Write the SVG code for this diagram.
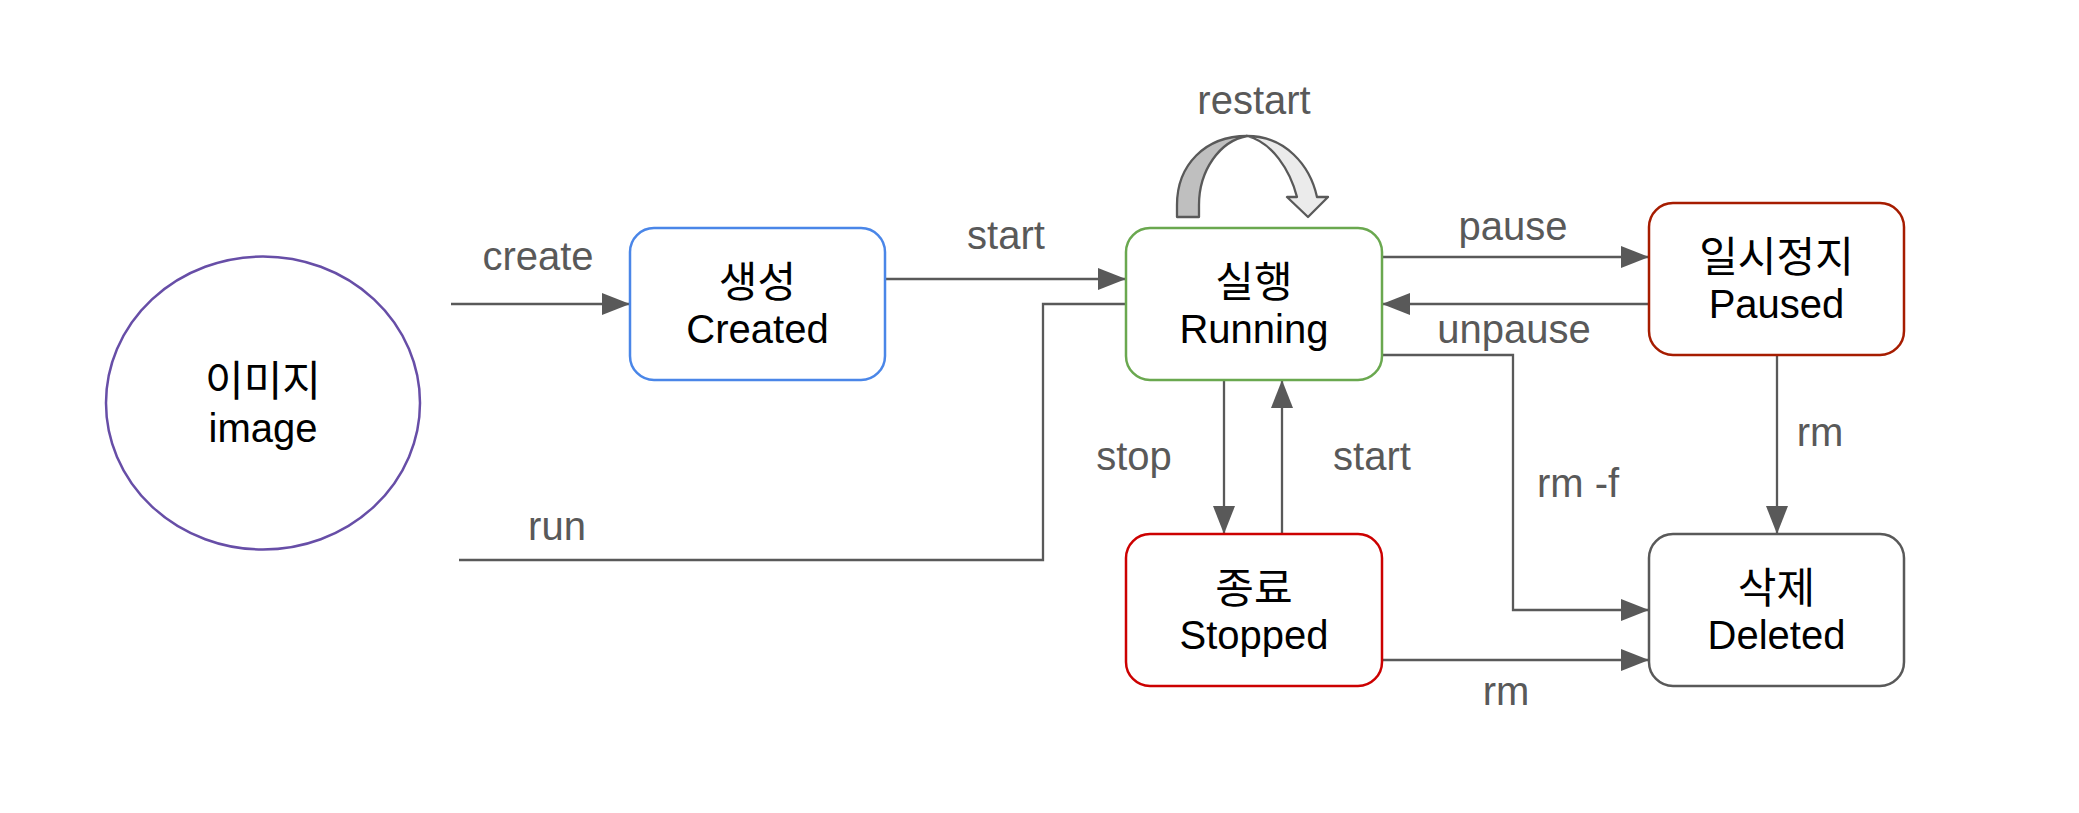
<svg xmlns="http://www.w3.org/2000/svg" width="2079" height="813" viewBox="0 0 2079 813">
<style>
.lbl{font-family:"Liberation Sans","Noto Sans CJK KR",sans-serif;font-size:40px;fill:#595959;text-anchor:middle}
.txt{font-family:"Liberation Sans","Noto Sans CJK KR",sans-serif;font-size:40px;fill:#000000;text-anchor:middle}
.ko{font-family:"Noto Sans CJK KR","Liberation Sans",sans-serif;font-size:42px;fill:#000000;text-anchor:middle}
.box{fill:#ffffff;stroke-width:2.5}
.edge{fill:none;stroke:#595959;stroke-width:2.3}
.arr{marker-end:url(#ah)}
</style>
<defs>
<marker id="ah" markerWidth="28" markerHeight="22" refX="28" refY="11" orient="auto" markerUnits="userSpaceOnUse">
<path d="M0,0 L28,11 L0,22 Z" fill="#595959"/>
</marker>
</defs>
<rect x="0" y="0" width="2079" height="813" fill="#ffffff"/>
<g id="connectors">
<path class="edge arr" d="M451,304 L630,304"/>
<path class="edge arr" d="M885,279 L1126,279"/>
<path class="edge" d="M459,560 L1043,560 L1043,304 L1126,304"/>
<path class="edge arr" d="M1382,257 L1649,257"/>
<path class="edge arr" d="M1649,304 L1382,304"/>
<path class="edge arr" d="M1378,355 L1513,355 L1513,610 L1649,610"/>
<path class="edge arr" d="M1224,380 L1224,534"/>
<path class="edge arr" d="M1282,534 L1282,380"/>
<path class="edge arr" d="M1382,660 L1649,660"/>
<path class="edge arr" d="M1777,355 L1777,534"/>
<g id="restart-arrow" stroke="#595959" stroke-width="2.3" stroke-linejoin="round">
<path d="M1177,217 L1177,205 C1177,165 1205,136 1247,136 C1220,141 1199,170 1199,205 L1199,217 Z" fill="#bfbfbf"/>
<path d="M1247,136 C1285,136 1310,165 1317,197 L1328,197 L1308,217 L1287,197 L1297,197 C1290,170 1272,142 1247,136 Z" fill="#ebebeb"/>
</g>
<text class="lbl" x="538" y="270">create</text>
<text class="lbl" x="1006" y="249">start</text>
<text class="lbl" x="557" y="540">run</text>
<text class="lbl" x="1254" y="114">restart</text>
<text class="lbl" x="1513" y="240">pause</text>
<text class="lbl" x="1514" y="343">unpause</text>
<text class="lbl" x="1134" y="470">stop</text>
<text class="lbl" x="1372" y="470">start</text>
<text class="lbl" x="1578" y="497">rm -f</text>
<text class="lbl" x="1820" y="446">rm</text>
<text class="lbl" x="1506" y="705">rm</text>
</g>
<g id="node-image">
<ellipse cx="263" cy="403" rx="157" ry="146.5" fill="#ffffff" stroke="#674ea7" stroke-width="2.5"/>
<text class="ko" x="263" y="396">이미지</text>
<text class="txt" x="263" y="442">image</text>
</g>
<g id="node-created">
<rect class="box" x="630" y="228" width="255" height="152" rx="24" stroke="#4a86e8"/>
<text class="ko" x="757.5" y="297">생성</text>
<text class="txt" x="757.5" y="343">Created</text>
</g>
<g id="node-running">
<rect class="box" x="1126" y="228" width="256" height="152" rx="24" stroke="#6aa84f"/>
<text class="ko" x="1254" y="297">실행</text>
<text class="txt" x="1254" y="343">Running</text>
</g>
<g id="node-paused">
<rect class="box" x="1649" y="203" width="255" height="152" rx="24" stroke="#a61c00"/>
<text class="ko" x="1776.5" y="272">일시정지</text>
<text class="txt" x="1776.5" y="318">Paused</text>
</g>
<g id="node-stopped">
<rect class="box" x="1126" y="534" width="256" height="152" rx="24" stroke="#cc0000"/>
<text class="ko" x="1254" y="603">종료</text>
<text class="txt" x="1254" y="649">Stopped</text>
</g>
<g id="node-deleted">
<rect class="box" x="1649" y="534" width="255" height="152" rx="24" stroke="#595959"/>
<text class="ko" x="1776.5" y="603">삭제</text>
<text class="txt" x="1776.5" y="649">Deleted</text>
</g>
</svg>
